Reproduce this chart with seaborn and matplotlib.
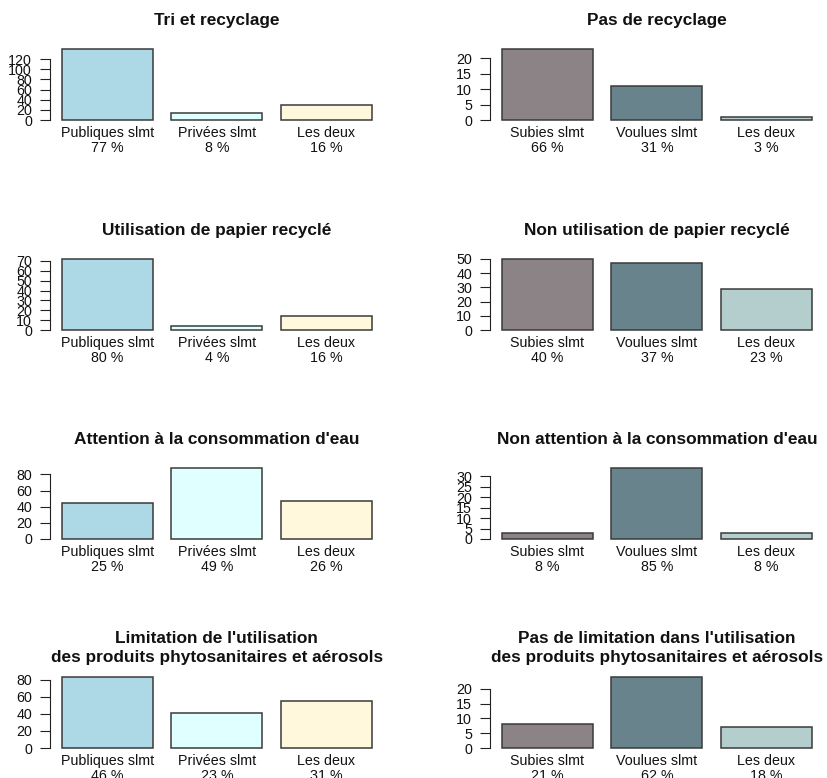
import matplotlib
matplotlib.use("Agg")
import matplotlib.pyplot as plt
import matplotlib.transforms as mtransforms
import seaborn as sns
import pandas as pd

# ---------------- data ----------------
cats_public = ["Publiques slmt", "Privées slmt", "Les deux"]
cats_motive = ["Subies slmt", "Voulues slmt", "Les deux"]
colors_public = ["#ADD8E6", "#E0FFFF", "#FFF8DC"]
colors_motive = ["#8B8386", "#68838B", "#B4CDCD"]

title_tri = "Tri et recyclage"
tri_values = [140, 14, 29]
tri_pct = ["77 %", "8 %", "16 %"]
tri_ticks = [0, 20, 40, 60, 80, 100, 120]

title_notri = "Pas de recyclage"
notri_values = [23, 11, 1]
notri_pct = ["66 %", "31 %", "3 %"]
notri_ticks = [0, 5, 10, 15, 20]

title_paper = "Utilisation de papier recyclé"
paper_values = [72, 4, 14]
paper_pct = ["80 %", "4 %", "16 %"]
paper_ticks = [0, 10, 20, 30, 40, 50, 60, 70]

title_nopaper = "Non utilisation de papier recyclé"
nopaper_values = [50, 47, 29]
nopaper_pct = ["40 %", "37 %", "23 %"]
nopaper_ticks = [0, 10, 20, 30, 40, 50]

title_water = "Attention à la consommation d'eau"
water_values = [45, 88, 47]
water_pct = ["25 %", "49 %", "26 %"]
water_ticks = [0, 20, 40, 60, 80]

title_nowater = "Non attention à la consommation d'eau"
nowater_values = [3, 34, 3]
nowater_pct = ["8 %", "85 %", "8 %"]
nowater_ticks = [0, 5, 10, 15, 20, 25, 30]

title_phyto = "Limitation de l'utilisation\ndes produits phytosanitaires et aérosols"
phyto_values = [83, 41, 55]
phyto_pct = ["46 %", "23 %", "31 %"]
phyto_ticks = [0, 20, 40, 60, 80]

title_nophyto = "Pas de limitation dans l'utilisation\ndes produits phytosanitaires et aérosols"
nophyto_values = [8, 24, 7]
nophyto_pct = ["21 %", "62 %", "18 %"]
nophyto_ticks = [0, 5, 10, 15, 20]

panels = [
    (title_tri, cats_public, colors_public, tri_values, tri_pct, tri_ticks),
    (title_notri, cats_motive, colors_motive, notri_values, notri_pct, notri_ticks),
    (title_paper, cats_public, colors_public, paper_values, paper_pct, paper_ticks),
    (title_nopaper, cats_motive, colors_motive, nopaper_values, nopaper_pct, nopaper_ticks),
    (title_water, cats_public, colors_public, water_values, water_pct, water_ticks),
    (title_nowater, cats_motive, colors_motive, nowater_values, nowater_pct, nowater_ticks),
    (title_phyto, cats_public, colors_public, phyto_values, phyto_pct, phyto_ticks),
    (title_nophyto, cats_motive, colors_motive, nophyto_values, nophyto_pct, nophyto_ticks),
]

# ---------------- style ----------------
sns.set_style("white")
plt.rcParams["font.family"] = ["Liberation Sans", "DejaVu Sans"]
plt.rcParams["text.color"] = "#111111"
plt.rcParams["xtick.color"] = "#111111"
plt.rcParams["ytick.color"] = "#111111"

W, H = 827, 778
fig = plt.figure(figsize=(W / 100, H / 100), dpi=100)
fig.patch.set_facecolor("white")

col_x = [50, 490]
ax_w = 331
row_base = [120, 330, 539, 748]
ax_h = 71
tick_fs = 10.3
title_fs = 12.4

for i, (title, cats, cols, vals, pct, ticks) in enumerate(panels):
    r, c = divmod(i, 2)
    ax = fig.add_axes([col_x[c] / W, 1 - row_base[r] / H, ax_w / W, ax_h / H])
    df = pd.DataFrame({"cat": cats, "n": vals})
    sns.barplot(data=df, x="cat", y="n", hue="cat", order=cats, hue_order=cats,
                palette=cols, saturation=1, legend=False, width=1 / 1.2,
                edgecolor="#3a3a3a", linewidth=1.1, errorbar=None, ax=ax)
    for p in ax.patches:
        p.set_clip_on(False)
    ax.set_xlim(-0.525, 2.5)
    ax.set_ylim(0, max(vals))
    ax.set_yticks(ticks)
    ax.set_yticklabels([str(t) for t in ticks])
    ax.set_xticks(range(len(cats)))
    ax.set_xticklabels([f"{cc}\n{pp}" for cc, pp in zip(cats, pct)], linespacing=1.12)
    ax.tick_params(axis="x", bottom=False, length=0, pad=4.0, labelsize=tick_fs)
    ax.tick_params(axis="y", left=True, length=7.2, width=0.8, pad=5.8,
                   labelsize=tick_fs, color="#222222")
    for s in ["top", "right", "bottom"]:
        ax.spines[s].set_visible(False)
    ax.spines["left"].set_bounds(ticks[0], ticks[-1])
    ax.spines["left"].set_linewidth(0.8)
    ax.spines["left"].set_color("#222222")
    ax.set_xlabel("")
    ax.set_ylabel("")
    ax.patch.set_alpha(0)
    trans = mtransforms.blended_transform_factory(ax.transData, ax.transAxes)
    ax.text(1, 1 + 29 / 71, title, transform=trans, ha="center", va="center",
            fontsize=title_fs, fontweight="bold", linespacing=1.35)

fig.savefig("out.png", dpi=100)
